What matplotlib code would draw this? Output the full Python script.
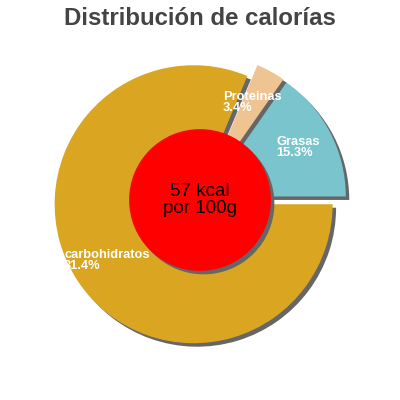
import matplotlib
matplotlib.use("Agg")
import matplotlib.pyplot as plt
from matplotlib.patches import Circle

# data
nombres = ["Grasas", "Proteinas", "carbohidratos"]
porcentajes = [15.3, 3.4, 81.4]
colores = ["#7ac4cd", "#eec492", "#daa520"]
kcal = 57
titulo = "Distribución de calorías"

# label positions (data units, pie radius = 1)
pos_etiquetas = [(0.55, 0.375), (0.165, 0.70), (-0.978, -0.435)]

plt.rcParams["font.family"] = ["Liberation Sans", "DejaVu Sans"]

fig = plt.figure(figsize=(4, 4), dpi=100)
ax = fig.add_axes([0, 0, 1, 1])

explode = [0.055, 0.055, 0.055]
sombra = (0.025, -0.025)

# shadow pie
ax.pie(porcentajes, explode=explode, colors=["#666666"] * 3, startangle=0,
       counterclock=True, radius=1.0, center=sombra,
       wedgeprops=dict(linewidth=0))
# main pie
ax.pie(porcentajes, explode=explode, colors=colores, startangle=0,
       counterclock=True, radius=1.0,
       wedgeprops=dict(linewidth=0))

# center circle with shadow
ax.add_patch(Circle(sombra, 0.505, color="#666666", zorder=5))
ax.add_patch(Circle((0, 0), 0.505, color="#ff0000", zorder=6))
ax.text(0, 0.0, f"{kcal} kcal\npor 100g", ha="center", va="center",
        fontsize=13.5, color="black", linespacing=1.0, zorder=7)

for nombre, pct, (x, y) in zip(nombres, porcentajes, pos_etiquetas):
    ax.text(x, y, f"{nombre}\n{pct}%", ha="left", va="center", fontsize=9.3,
            color="white", fontweight="bold", linespacing=0.9, zorder=4)

lim = 200 / 139
ax.set_xlim(-lim, lim)
ax.set_ylim(-lim, lim)
ax.set_aspect("equal")
ax.axis("off")

fig.text(0.5, 0.953, titulo, ha="center", va="center", fontsize=17.3,
         fontweight="bold", color="#444444")

fig.savefig("out.png", dpi=100)
